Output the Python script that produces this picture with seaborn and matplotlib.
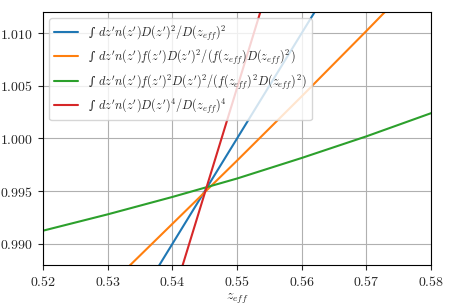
import pandas as pd
import matplotlib
matplotlib.use("Agg")
import matplotlib.pyplot as plt
import seaborn as sns

# --- data ---
z_eff = [0.52, 0.53, 0.54, 0.55, 0.56, 0.57, 0.58]

ratio_d2 = [0.9700, 0.9800, 0.9900, 1.0000, 1.0100, 1.0200, 1.0300]
ratio_fd2 = [0.9799, 0.9859, 0.9919, 0.9979, 1.0040, 1.0102, 1.0165]
ratio_f2d2 = [0.99125, 0.99280, 0.99445, 0.99620, 0.99815, 1.00020, 1.00240]
ratio_d4 = [0.9448, 0.9648, 0.9848, 1.0048, 1.0248, 1.0448, 1.0648]

labels = [
    "\u222b " + r"$dz' n(z') D(z')^2/D(z_{eff})^2$",
    "\u222b " + r"$dz' n(z') f(z') D(z')^2/(f(z_{eff}) D(z_{eff})^2)$",
    "\u222b " + r"$dz' n(z') f(z')^2 D(z')^2/(f(z_{eff})^2 D(z_{eff})^2)$",
    "\u222b " + r"$dz' n(z') D(z')^4/D(z_{eff})^4$",
]

xticks = [0.52, 0.53, 0.54, 0.55, 0.56, 0.57, 0.58]
yticks = [0.990, 0.995, 1.000, 1.005, 1.010]

series = [ratio_d2, ratio_fd2, ratio_f2d2, ratio_d4]

rows = []
for lab, vals in zip(labels, series):
    for z, v in zip(z_eff, vals):
        rows.append({"z_eff": z, "ratio": v, "label": lab})
df = pd.DataFrame(rows)

sns.set_style("ticks")
plt.rcParams["font.family"] = ["DejaVu Serif"]
plt.rcParams["mathtext.fontset"] = "cm"
plt.rcParams["font.size"] = 10

fig = plt.figure(figsize=(4.5, 3.07), dpi=100)
ax = fig.add_axes([0.0956, 0.137, 0.8624, 0.824])

sns.lineplot(data=df, x="z_eff", y="ratio", hue="label", hue_order=labels,
             palette=sns.color_palette("tab10", 4), linewidth=1.5, ax=ax)

ax.set_xlim(0.52, 0.58)
ax.set_ylim(0.988, 1.012)
ax.set_xticks(xticks)
ax.set_yticks(yticks)
ax.set_xticklabels([f"${t:.2f}$" for t in xticks])
ax.set_yticklabels([f"${t:.3f}$" for t in yticks])
ax.grid(True, color="#b0b0b0", linewidth=0.8)
for s in ax.spines.values():
    s.set_visible(True)
    s.set_color("black")
ax.set_xlabel(r"$z_{eff}$", labelpad=2)
ax.set_ylabel("")
ax.legend(loc="upper left", fontsize=8.8, labelspacing=0.45)

fig.savefig("out.png", dpi=100)
